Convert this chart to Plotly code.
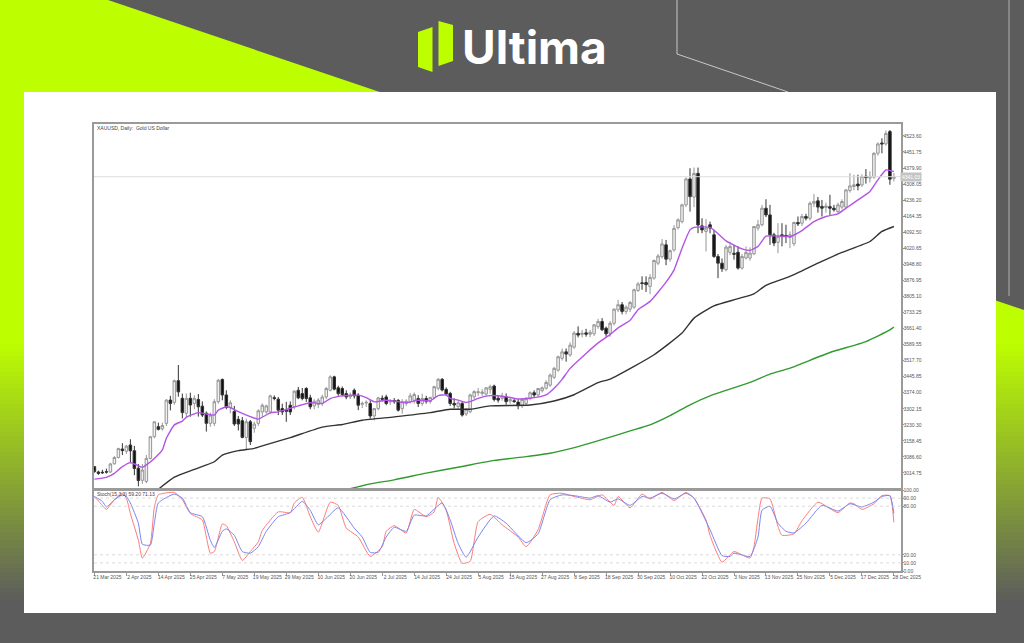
import plotly.graph_objects as go
from plotly.subplots import make_subplots

W, H = 1024, 643

# candles, one value per daily bar
opens = [
    3043, 3019, 3018, 3020, 3019, 3056, 3084, 3122, 3112, 3140,
    3114, 3036, 2982, 2977, 3080, 3177, 3222, 3212, 3237, 3341,
    3331, 3428, 3349, 3282, 3349, 3326, 3344, 3314, 3282, 3237,
    3237, 3334, 3433, 3364, 3308, 3290, 3255, 3249, 3174, 3244,
    3215, 3237, 3288, 3288, 3288, 3352, 3345, 3303, 3297, 3318,
    3311, 3385, 3370, 3393, 3351, 3315, 3321, 3326, 3355, 3385,
    3445, 3396, 3393, 3370, 3355, 3385, 3363, 3322, 3328, 3326,
    3270, 3303, 3349, 3355, 3333, 3339, 3340, 3303, 3326, 3333,
    3340, 3348, 3326, 3348, 3334, 3353, 3394, 3434, 3389, 3371,
    3326, 3312, 3326, 3279, 3289, 3356, 3374, 3371, 3368, 3389,
    3404, 3349, 3349, 3356, 3337, 3338, 3332, 3316, 3326, 3349,
    3374, 3364, 3383, 3394, 3408, 3443, 3475, 3528, 3557, 3543,
    3578, 3640, 3635, 3642, 3636, 3638, 3670, 3693, 3663, 3640,
    3685, 3745, 3768, 3738, 3748, 3757, 3832, 3866, 3867, 3850,
    3887, 3954, 3983, 4036, 3972, 4013, 4113, 4140, 4215, 4331,
    4250, 4356, 4121, 4096, 4126, 4081, 3984, 3954, 3925, 4002,
    3998, 4003, 3932, 3977, 3977, 3996, 4111, 4126, 4200, 4170,
    4081, 4047, 4081, 4078, 4069, 4041, 4136, 4133, 4163, 4155,
    4222, 4233, 4208, 4203, 4207, 4200, 4185, 4205, 4205, 4279,
    4297, 4308, 4304, 4343, 4335, 4339, 4446, 4492, 4488, 4543, 4334,
]
highs = [
    3046, 3025, 3029, 3034, 3060, 3090, 3128, 3148, 3140, 3166,
    3136, 3055, 3055, 3095, 3180, 3245, 3240, 3240, 3345, 3360,
    3432, 3498, 3370, 3370, 3374, 3362, 3368, 3335, 3290, 3285,
    3345, 3435, 3438, 3385, 3340, 3315, 3270, 3265, 3258, 3252,
    3245, 3300, 3326, 3320, 3365, 3362, 3355, 3325, 3333, 3335,
    3385, 3400, 3395, 3399, 3365, 3345, 3350, 3365, 3400, 3452,
    3450, 3405, 3402, 3385, 3375, 3393, 3372, 3335, 3340, 3340,
    3305, 3355, 3362, 3365, 3345, 3350, 3345, 3345, 3345, 3372,
    3375, 3363, 3370, 3360, 3356, 3405, 3440, 3440, 3398, 3378,
    3349, 3340, 3335, 3305, 3370, 3385, 3395, 3390, 3400, 3410,
    3410, 3360, 3374, 3371, 3355, 3350, 3345, 3350, 3355, 3380,
    3385, 3395, 3402, 3430, 3460, 3490, 3540, 3572, 3572, 3600,
    3650, 3671, 3655, 3660, 3655, 3682, 3705, 3708, 3670, 3695,
    3752, 3790, 3780, 3765, 3785, 3840, 3870, 3895, 3895, 3905,
    3970, 3995, 4062, 4058, 4015, 4125, 4155, 4220, 4338, 4379,
    4382, 4382, 4155, 4151, 4140, 4103, 3995, 3975, 4035, 4050,
    4036, 4030, 3995, 4029, 4025, 4120, 4148, 4215, 4240, 4215,
    4090, 4133, 4133, 4126, 4096, 4140, 4163, 4175, 4175, 4230,
    4264, 4250, 4237, 4225, 4260, 4215, 4225, 4240, 4285, 4357,
    4350, 4350, 4352, 4375, 4365, 4450, 4495, 4513, 4548, 4550, 4357,
]
lows = [
    3016, 3006, 3010, 3012, 3015, 3052, 3080, 3095, 3100, 3058,
    3005, 2955, 2966, 2969, 3075, 3170, 3205, 3205, 3225, 3295,
    3320, 3356, 3259, 3262, 3267, 3300, 3267, 3265, 3200, 3222,
    3225, 3325, 3340, 3300, 3282, 3225, 3205, 3170, 3122, 3140,
    3195, 3225, 3266, 3280, 3280, 3340, 3274, 3274, 3244, 3274,
    3300, 3345, 3340, 3333, 3300, 3300, 3305, 3315, 3345, 3380,
    3385, 3360, 3358, 3345, 3345, 3348, 3296, 3305, 3310, 3258,
    3250, 3295, 3335, 3318, 3320, 3325, 3290, 3280, 3315, 3325,
    3325, 3310, 3315, 3325, 3325, 3345, 3385, 3380, 3360, 3315,
    3304, 3300, 3267, 3270, 3282, 3345, 3360, 3360, 3360, 3370,
    3335, 3330, 3338, 3320, 3325, 3328, 3300, 3305, 3315, 3340,
    3355, 3355, 3375, 3388, 3400, 3435, 3468, 3518, 3513, 3535,
    3570, 3622, 3622, 3625, 3622, 3628, 3660, 3650, 3625, 3625,
    3675, 3735, 3725, 3725, 3735, 3750, 3825, 3835, 3825, 3815,
    3880, 3945, 3975, 3945, 3960, 4005, 4105, 4132, 4205, 4185,
    4205, 4088, 4088, 4006, 4088, 3978, 3887, 3915, 3917, 3990,
    3970, 3925, 3925, 3970, 3965, 3990, 4100, 4118, 4160, 4036,
    4030, 3999, 4029, 4044, 4021, 4030, 4120, 4120, 4145, 4145,
    4205, 4180, 4163, 4180, 4170, 4185, 4175, 4195, 4195, 4270,
    4280, 4280, 4295, 4310, 4315, 4332, 4435, 4446, 4480, 4305, 4320,
]
closes = [
    3021, 3013, 3016, 3019, 3055, 3084, 3124, 3115, 3135, 3114,
    3035, 2981, 3028, 3080, 3177, 3244, 3210, 3227, 3341, 3326,
    3428, 3378, 3285, 3349, 3319, 3349, 3311, 3274, 3237, 3274,
    3334, 3430, 3364, 3308, 3329, 3234, 3234, 3174, 3244, 3155,
    3234, 3293, 3318, 3315, 3360, 3348, 3296, 3288, 3291, 3288,
    3381, 3351, 3348, 3348, 3311, 3336, 3341, 3355, 3393, 3445,
    3390, 3370, 3366, 3355, 3362, 3360, 3318, 3326, 3331, 3270,
    3303, 3351, 3345, 3326, 3337, 3334, 3296, 3333, 3336, 3360,
    3366, 3326, 3348, 3336, 3353, 3401, 3434, 3386, 3368, 3326,
    3319, 3329, 3274, 3300, 3364, 3379, 3378, 3377, 3396, 3401,
    3344, 3341, 3359, 3334, 3343, 3335, 3316, 3344, 3349, 3374,
    3364, 3393, 3396, 3420, 3453, 3483, 3535, 3557, 3547, 3587,
    3641, 3632, 3640, 3636, 3644, 3678, 3693, 3656, 3638, 3685,
    3748, 3768, 3738, 3757, 3778, 3835, 3861, 3863, 3858, 3890,
    3966, 3986, 4040, 3972, 4010, 4110, 4148, 4215, 4331, 4252,
    4356, 4125, 4103, 4111, 4111, 3984, 3954, 3929, 4026, 4029,
    3994, 3932, 3984, 4002, 3999, 4118, 4126, 4200, 4170, 4081,
    4044, 4073, 4073, 4076, 4081, 4136, 4130, 4163, 4155, 4222,
    4230, 4205, 4200, 4210, 4200, 4193, 4215, 4230, 4282, 4300,
    4305, 4300, 4342, 4337, 4342, 4446, 4488, 4488, 4535, 4330, 4340,
]
bars = list(range(len(closes)))

# moving averages, read at the bars where the line bends
purple_bars = [0, 3, 5, 7, 9, 10, 12, 13, 15, 17, 18, 20, 22, 23, 26, 28, 30, 31, 33, 34, 36, 39, 41,
               44, 46, 48, 51, 54, 57, 59, 62, 66, 68, 70, 73, 78, 81, 84, 86, 88, 89, 91, 93, 94, 96,
               99, 103, 106, 109, 113, 115, 117, 119, 123, 126, 129, 131, 134, 136, 139, 143, 145, 147,
               149, 150, 154, 158, 159, 162, 164, 166, 168, 171, 174, 177, 180, 183, 186, 188, 191, 194,
               196, 198, 200]
purple_vals = [2987, 2995, 3013, 3043, 3061, 3055, 3040, 3051, 3080, 3118, 3170, 3230, 3247, 3264, 3285, 3279, 3274, 3296, 3311, 3308, 3289, 3267, 3256,
               3284, 3288, 3299, 3315, 3329, 3326, 3348, 3360, 3363, 3352, 3333, 3340, 3330, 3340, 3338, 3361, 3364, 3349, 3341, 3331, 3334, 3349,
               3361, 3356, 3346, 3349, 3364, 3394, 3434, 3483, 3550, 3597, 3634, 3664, 3698, 3746, 3783, 3869, 3924, 4021,
               4103, 4114, 4114, 4054, 4044, 4018, 4011, 4029, 4075, 4076, 4073, 4100, 4140, 4163, 4175, 4200, 4237, 4275,
               4327, 4371, 4364]
black_bars = [16, 20, 25, 30, 32, 36, 40, 42, 49, 57, 62, 67, 75, 84, 89, 94, 99, 109, 115, 120, 126,
              129, 135, 140, 147, 150, 155, 161, 165, 168, 174, 181, 187, 194, 197, 200]
black_vals = [2942, 2996, 3031, 3065, 3095, 3115, 3125, 3136, 3173, 3220, 3232, 3251, 3266, 3285, 3300, 3300, 3315, 3319, 3337, 3365, 3419,
              3435, 3492, 3544, 3641, 3708, 3763, 3795, 3817, 3855, 3895, 3954, 4002, 4051, 4096, 4118]
green_bars = [64, 69, 75, 83, 92, 100, 108, 114, 121, 129, 134, 139, 144, 149, 154, 164, 169, 174, 184, 193, 199, 200]
green_vals = [2944, 2966, 2984, 3014, 3044, 3071, 3088, 3103, 3133, 3175, 3203, 3230, 3271, 3320, 3360, 3420, 3457, 3484, 3554, 3603, 3655, 3668]

# stochastic lines
red_bars = [0, 2, 3, 5, 7, 8, 9, 11, 12, 14, 15, 16, 20, 22, 24, 27, 28, 29, 30, 32, 33, 35, 37, 39, 41, 42, 46, 49, 50,
            52, 54, 56, 59, 61, 63, 66, 69, 72, 73, 75, 78, 80, 83, 85, 86, 88, 90, 92, 94, 96, 99, 102, 106, 108, 111,
            114, 117, 120, 124, 127, 130, 131, 134, 137, 139, 142, 145, 148, 150, 153, 154, 157, 160, 164, 165, 166, 167,
            169, 171, 172, 175, 177, 181, 184, 186, 189, 190, 192, 195, 197, 199, 200]
red_vals = [92, 81, 76, 88, 96, 90, 71, 38, 16, 34, 79, 94, 97, 88, 71, 63, 42, 22, 24, 58, 56, 36, 13, 24, 36, 50, 73, 72, 84,
            91, 67, 48, 85, 81, 53, 42, 18, 30, 49, 56, 47, 76, 67, 73, 91, 75, 34, 9.5, 12, 61, 70, 57, 42, 30, 51,
            94, 96, 92, 88, 94, 81, 92, 78, 95, 89, 97, 87, 97, 90, 63, 44, 11, 24, 16, 30, 65, 90,
            89, 55, 44, 46, 62, 85, 77, 72, 84, 83, 76, 83, 93, 93, 60]
blue_bars = [0, 2, 3, 5, 7, 8, 9, 11, 12, 14, 15, 16, 20, 22, 24, 27, 29, 30, 32, 33, 35, 37, 39, 41, 43, 46, 49, 52, 54, 56,
             58, 61, 65, 67, 69, 71, 73, 75, 78, 80, 83, 87, 89, 91, 93, 96, 100, 103, 108, 111, 114, 117, 120, 124, 126, 129,
             131, 134, 137, 139, 142, 145, 148, 150, 154, 157, 159, 160, 164, 166, 167, 169, 171, 173, 175, 178, 182, 186,
             189, 192, 195, 197, 199, 200]
blue_vals = [92, 86, 79, 88, 94, 92, 84, 59, 33, 32, 59, 84, 95, 90, 72, 67, 38, 29, 49, 52, 44, 24, 22, 30, 49, 67, 72, 86, 75, 57,
             65, 78, 53, 42, 23, 23, 42, 54, 49, 69, 68, 84, 63, 34, 17, 42, 68, 59, 35, 46, 88, 94, 93, 90, 93, 85,
             89, 81, 92, 90, 96, 89, 96, 90, 51, 19, 18, 22, 18, 42, 75, 80, 59, 49, 47, 59, 81, 74,
             83, 79, 85, 92, 93, 71]

price_ticks = [4523.60, 4451.75, 4379.90, 4308.05, 4236.20, 4164.35, 4092.50, 4020.65, 3948.80, 3876.95, 3805.10,
               3733.25, 3661.40, 3589.55, 3517.70, 3445.85, 3374.00, 3302.15, 3230.30, 3158.45, 3086.60, 3014.75]
stoch_ticks = [100, 90, 80, 20, 10, 0]
stoch_levels = [90, 80, 20, 10]
date_labels = ["21 Mar 2025", "2 Apr 2025", "14 Apr 2025", "25 Apr 2025", "7 May 2025", "19 May 2025", "29 May 2025",
               "10 Jun 2025", "20 Jun 2025", "2 Jul 2025", "14 Jul 2025", "24 Jul 2025", "5 Aug 2025", "15 Aug 2025",
               "27 Aug 2025", "8 Sep 2025", "18 Sep 2025", "30 Sep 2025", "10 Oct 2025", "22 Oct 2025", "3 Nov 2025",
               "13 Nov 2025", "25 Nov 2025", "5 Dec 2025", "17 Dec 2025", "28 Dec 2025"]
last_price = 4341.03

LIME = (189, 255, 0)
GRAY = (92, 92, 92)
TEXT = "#555555"
FRAME = "#9a9a9a"


def fx(px):
    return px / W


def fy(py):
    return 1 - py / H


def poly(points, color):
    path = "M" + " L".join(f"{fx(x)},{fy(y)}" for x, y in points) + " Z"
    return dict(type="path", path=path, xref="paper", yref="paper", fillcolor=color, line_width=0, layer="below")


def rect(x0, y0, x1, y1, color):
    return dict(type="rect", x0=fx(x0), x1=fx(x1), y0=fy(y1), y1=fy(y0), xref="paper", yref="paper",
                fillcolor=color, line_width=0, layer="below")


def seg(points, color, width=1):
    path = "M" + " L".join(f"{fx(x)},{fy(y)}" for x, y in points)
    return dict(type="path", path=path, xref="paper", yref="paper", line=dict(color=color, width=width), layer="below")


def smooth(color, width):
    return dict(color=color, width=width, shape="spline", smoothing=0.5)


fig = make_subplots(rows=2, cols=1, shared_xaxes=True)

fig.add_trace(go.Candlestick(
    x=bars, open=opens, high=highs, low=lows, close=closes,
    increasing=dict(line=dict(color="#969696", width=1), fillcolor="#f0f0f0"),
    decreasing=dict(line=dict(color="#333333", width=1), fillcolor="#111111"),
    whiskerwidth=0,
), row=1, col=1)
fig.add_trace(go.Scatter(x=green_bars, y=green_vals, mode="lines", line=smooth("#2f9b2f", 1.4)), row=1, col=1)
fig.add_trace(go.Scatter(x=black_bars, y=black_vals, mode="lines", line=smooth("#333333", 1.4)), row=1, col=1)
fig.add_trace(go.Scatter(x=purple_bars, y=purple_vals, mode="lines", line=smooth("#b354e6", 1.4)), row=1, col=1)

fig.add_trace(go.Scatter(x=red_bars, y=red_vals, mode="lines", line=smooth("#ff7a7a", 1)), row=2, col=1)
fig.add_trace(go.Scatter(x=blue_bars, y=blue_vals, mode="lines", line=smooth("#7a86f0", 1)), row=2, col=1)

fig.add_hline(y=last_price, line=dict(color="#dddddd", width=1), row=1, col=1)
for level in stoch_levels:
    fig.add_hline(y=level, line=dict(color="#cccccc", width=0.7, dash="dot"), row=2, col=1)

# page behind the chart: grey, lime wedge, fade to grey, white card
shapes = [poly([(0, 0), (108, 0), (1024, 310), (1024, 342), (0, 342)], "rgb(%d,%d,%d)" % LIME)]
for y in range(340, 643, 4):
    t = min((y - 340) / 260, 1)
    band = tuple(round(LIME[i] + (GRAY[i] - LIME[i]) * t) for i in range(3))
    shapes.append(rect(0, y, 1024, min(y + 5, 643), "rgb(%d,%d,%d)" % band))
shapes += [
    seg([(677, 0), (677, 54), (788, 92)], "#c8c8c8"),
    seg([(1009, 0), (1009, 296)], "#b0b0b0"),
    rect(24, 92, 996, 613, "white"),
    poly([(418, 32), (432.5, 27), (432.5, 72), (418, 67)], "rgb(%d,%d,%d)" % LIME),
    poly([(438.5, 21), (453, 25), (453, 61), (438.5, 66)], "rgb(%d,%d,%d)" % LIME),
]
for s in shapes:
    fig.add_shape(s)

xdom = [fx(94), fx(900.7)]
fig.update_layout(
    width=W,
    height=H,
    margin=dict(l=0, r=0, t=0, b=0),
    paper_bgcolor="#5c5c5c",
    plot_bgcolor="rgba(0,0,0,0)",
    showlegend=False,
    boxgap=0.1,
    font=dict(family="Liberation Sans", size=6, color=TEXT),
)
fig.update_xaxes(range=[-0.1, 201.7], domain=xdom, showgrid=False, rangeslider_visible=False, zeroline=False,
                 showline=True, linecolor=FRAME, linewidth=1.5, mirror=True, automargin=False)
fig.update_xaxes(showticklabels=False, ticks="", row=1, col=1)
fig.update_xaxes(tickvals=[i * 8 for i in range(len(date_labels))], ticktext=date_labels, ticks="outside", ticklen=3,
                 tickangle=0, tickcolor=FRAME, tickfont=dict(size=5, color=TEXT), ticklabelshift=13,
                 ticklabelstandoff=-3, row=2, col=1)
fig.update_yaxes(side="right", showgrid=False, zeroline=False, showline=True, linecolor=FRAME, linewidth=1.5, mirror=True,
                 ticks="outside", ticklen=2, tickcolor=FRAME, tickfont=dict(size=5, color=TEXT), ticklabelstandoff=-2,
                 automargin=False)
fig.update_yaxes(domain=[fy(489), fy(124)], range=[2943, 4577], tickvals=price_ticks,
                 ticktext=[f"{p:.2f}" for p in price_ticks], row=1, col=1)
fig.update_yaxes(domain=[fy(571), fy(490)], range=[0, 100], tickvals=stoch_ticks,
                 ticktext=[f"{s:.2f}" for s in stoch_ticks], row=2, col=1)

fig.add_annotation(text="<b>Ultima</b>", x=fx(534), y=fy(47), xref="paper", yref="paper", showarrow=False,
                   xanchor="center", yanchor="middle", font=dict(family="Inter", size=46, color="white"))
fig.add_annotation(text="XAUUSD, Daily:  Gold US Dollar", x=fx(95), y=fy(128), xref="paper", yref="paper", xanchor="left",
                   yanchor="middle", showarrow=False, font=dict(size=5, color="#444444"))
fig.add_annotation(text="Stoch(15,3,3) 59.20 71.13", x=fx(95), y=fy(494), xref="paper", yref="paper", xanchor="left",
                   yanchor="middle", showarrow=False, font=dict(size=5, color="#444444"))
fig.add_annotation(text=f"{last_price:.2f}", x=fx(911), y=fy(177), xref="paper", yref="paper", showarrow=False,
                   xanchor="center", yanchor="middle", bgcolor="#c4c4c4", borderpad=1, font=dict(size=5, color="white"))

# the browser's default body margin would push the page down and right
fig.write_html("out.html", config=dict(displayModeBar=False),
               post_script="document.body.style.margin='0';document.body.style.overflow='hidden';")
